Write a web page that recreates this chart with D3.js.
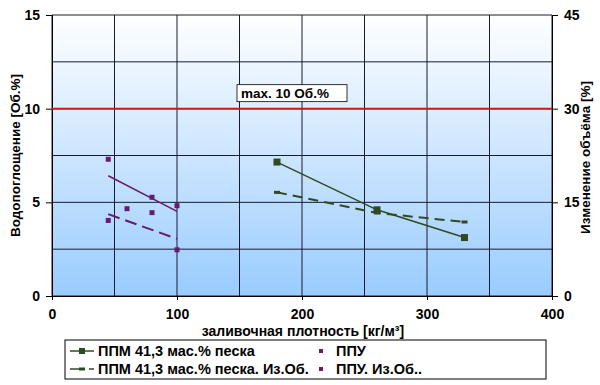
<!DOCTYPE html>
<html>
<head>
<meta charset="utf-8">
<script src="https://cdn.jsdelivr.net/npm/d3@7.8.5/dist/d3.min.js"></script>
<style>
  body { margin: 0; background: #fff; }
  svg { display: block; font-family: Arial, "Liberation Sans", sans-serif; font-weight: bold; }
</style>
</head>
<body>
<div id="chart"></div>
<script>
// density [kg/m3] and values
const ppmDensity = [180, 260, 330];
const ppmWater = [7.15, 4.6, 3.12];          // left axis, Об.%
const ppmVolume = [16.6, 13.3, 11.85];       // right axis, %

const ppuDensity = [45, 60, 80, 100];
const ppuWater = [7.3, 4.66, 5.27, 4.82];    // left axis
const ppuVolDensity = [45, 80, 100];
const ppuVolume = [12.1, 13.35, 7.4];        // right axis

const xTicks = [0, 100, 200, 300, 400];
const leftTicks = [0, 5, 10, 15];
const rightTicks = [0, 15, 30, 45];
const limitValue = 10;

const legendLabels = [
  "ППМ 41,3 мас.% песка",
  "ППМ 41,3 мас.% песка. Из.Об.",
  "ППУ",
  "ППУ. Из.Об.."
];

const width = 600, height = 385;
const margin = { top: 15, right: 48, bottom: 89, left: 52 };

const svg = d3.select("#chart").append("svg")
  .attr("width", width).attr("height", height);

const x = d3.scaleLinear().domain([0, 400]).range([margin.left, width - margin.right]);
const y = d3.scaleLinear().domain([0, 15]).range([height - margin.bottom, margin.top]);
const y2 = d3.scaleLinear().domain([0, 45]).range([height - margin.bottom, margin.top]);

const green = "#2f4a22";
const purple = "#6a1a6e";

// background gradient
const grad = svg.append("defs").append("linearGradient")
  .attr("id", "bg").attr("x1", 0).attr("y1", 0).attr("x2", 0).attr("y2", 1);
grad.append("stop").attr("offset", "0%").attr("stop-color", "#ffffff");
grad.append("stop").attr("offset", "100%").attr("stop-color", "#99ccff");

svg.append("rect")
  .attr("x", x(0)).attr("y", y(15))
  .attr("width", x(400) - x(0)).attr("height", y(0) - y(15))
  .attr("fill", "url(#bg)");

// grid
const grid = svg.append("g").attr("stroke", "#1b1b2e").attr("stroke-width", 1);
grid.selectAll(".vg").data(d3.range(0, 401, 50)).enter().append("line")
  .attr("x1", d => x(d)).attr("x2", d => x(d))
  .attr("y1", y(15)).attr("y2", y(0));
grid.selectAll(".hg").data(d3.range(0, 15.1, 2.5)).enter().append("line")
  .attr("x1", x(0)).attr("x2", x(400))
  .attr("y1", d => y(d)).attr("y2", d => y(d));

// axes
svg.append("g")
  .attr("transform", `translate(0,${y(0)})`)
  .call(d3.axisBottom(x).tickValues(xTicks).tickSize(4).tickPadding(9));
svg.append("g")
  .attr("transform", `translate(${x(0)},0)`)
  .call(d3.axisLeft(y).tickValues(leftTicks).tickSize(6).tickPadding(6));
svg.append("g")
  .attr("transform", `translate(${x(400)},0)`)
  .call(d3.axisRight(y2).tickValues(rightTicks).tickSize(6).tickPadding(6));

svg.selectAll(".domain").attr("stroke", "#000");
svg.selectAll(".tick line").attr("stroke", "#000");
svg.selectAll(".tick text")
  .style("font-size", "14px").style("font-weight", "bold")
  .style("font-family", "Arial, 'Liberation Sans', sans-serif").attr("fill", "#000");

// limit line
svg.append("line")
  .attr("x1", x(0)).attr("x2", x(400))
  .attr("y1", y(limitValue)).attr("y2", y(limitValue))
  .attr("stroke", "#d01818").attr("stroke-width", 2);

const labelG = svg.append("g").attr("transform", `translate(${x(148)},${y(limitValue) - 24})`);
labelG.append("rect").attr("width", 110).attr("height", 17)
  .attr("fill", "#fff").attr("stroke", "#000").attr("stroke-width", 0.8);
labelG.append("text").attr("x", 4).attr("y", 13)
  .style("font-size", "13.5px").text("max. 10 Об.%");

// trend line helper (least squares)
function fit(xs, ys) {
  const mx = d3.mean(xs), my = d3.mean(ys);
  const sxy = d3.sum(xs, (v, i) => (v - mx) * (ys[i] - my));
  const sxx = d3.sum(xs, v => (v - mx) * (v - mx));
  const b = sxy / sxx;
  return v => my + b * (v - mx);
}

// PPM water: solid line with squares
const ppmPts = ppmDensity.map((d, i) => [d, ppmWater[i]]);
svg.append("path").datum(ppmPts)
  .attr("fill", "none").attr("stroke", green).attr("stroke-width", 1.5)
  .attr("d", d3.line().x(d => x(d[0])).y(d => y(d[1])));
svg.selectAll(".ppm-m").data(ppmPts).enter().append("rect")
  .attr("x", d => x(d[0]) - 3.5).attr("y", d => y(d[1]) - 3.5)
  .attr("width", 7).attr("height", 7).attr("fill", green);

// PPM volume: dashed line with dash markers
const ppmVPts = ppmDensity.map((d, i) => [d, ppmVolume[i]]);
svg.append("path").datum(ppmVPts)
  .attr("fill", "none").attr("stroke", green).attr("stroke-width", 2)
  .attr("stroke-dasharray", "10,6")
  .attr("d", d3.line().x(d => x(d[0])).y(d => y2(d[1])));
svg.selectAll(".ppmv-m").data(ppmVPts).enter().append("rect")
  .attr("x", d => x(d[0]) - 3).attr("y", d => y2(d[1]) - 1.5)
  .attr("width", 6).attr("height", 3).attr("fill", green);

// PPU water: points + linear trend
const ppuFit = fit(ppuDensity, ppuWater);
const ppuExt = d3.extent(ppuDensity);
svg.append("line")
  .attr("x1", x(ppuExt[0])).attr("y1", y(ppuFit(ppuExt[0])))
  .attr("x2", x(ppuExt[1])).attr("y2", y(ppuFit(ppuExt[1])))
  .attr("stroke", purple).attr("stroke-width", 1.5);
svg.selectAll(".ppu-m").data(ppuDensity).enter().append("rect")
  .attr("x", (d) => x(d) - 2.5).attr("y", (d, i) => y(ppuWater[i]) - 2.5)
  .attr("width", 5).attr("height", 5).attr("fill", purple);

// PPU volume: points + dashed linear trend
const ppuVFit = fit(ppuVolDensity, ppuVolume);
const ppuVExt = d3.extent(ppuVolDensity);
svg.append("line")
  .attr("x1", x(ppuVExt[0])).attr("y1", y2(ppuVFit(ppuVExt[0])))
  .attr("x2", x(ppuVExt[1])).attr("y2", y2(ppuVFit(ppuVExt[1])))
  .attr("stroke", purple).attr("stroke-width", 2)
  .attr("stroke-dasharray", "12,6");
svg.selectAll(".ppuv-m").data(ppuVolDensity).enter().append("rect")
  .attr("x", (d) => x(d) - 2.5).attr("y", (d, i) => y2(ppuVolume[i]) - 2.5)
  .attr("width", 5).attr("height", 5).attr("fill", purple);

// axis titles
svg.append("text")
  .attr("transform", `translate(20,${(y(15) + y(0)) / 2}) rotate(-90)`)
  .attr("text-anchor", "middle").style("font-size", "13.5px")
  .text("Водопоглощение [Об.%]");
svg.append("text")
  .attr("transform", `translate(590,${(y(15) + y(0)) / 2 + 2}) rotate(-90)`)
  .attr("text-anchor", "middle").style("font-size", "13.5px")
  .text("Изменение объёма [%]");
svg.append("text")
  .attr("x", 303).attr("y", 336)
  .attr("text-anchor", "middle").style("font-size", "14px")
  .text("заливочная плотность [кг/м³]");

// legend
const leg = svg.append("g").attr("transform", "translate(65,340)");
leg.append("rect").attr("width", 481).attr("height", 39)
  .attr("fill", "#fff").attr("stroke", "#000").attr("stroke-width", 1);

const items = [
  { col: 0, row: 0, color: green, type: "solid" },
  { col: 0, row: 1, color: green, type: "dashed" },
  { col: 1, row: 0, color: purple, type: "point" },
  { col: 1, row: 1, color: purple, type: "point" }
];
items.forEach((it, i) => {
  const gx = it.col === 0 ? 5 : 250;
  const gy = 11 + it.row * 18;
  const g = leg.append("g").attr("transform", `translate(${gx},${gy})`);
  if (it.type === "solid") {
    g.append("line").attr("x1", 0).attr("x2", 24).attr("y1", 0).attr("y2", 0)
      .attr("stroke", it.color).attr("stroke-width", 1.5);
    g.append("rect").attr("x", 9).attr("y", -3).attr("width", 6).attr("height", 6).attr("fill", it.color);
  } else if (it.type === "dashed") {
    g.append("line").attr("x1", 0).attr("x2", 13).attr("y1", 0).attr("y2", 0)
      .attr("stroke", it.color).attr("stroke-width", 1.5);
    g.append("rect").attr("x", 9).attr("y", -1.5).attr("width", 6).attr("height", 3).attr("fill", it.color);
    g.append("line").attr("x1", 19).attr("x2", 24).attr("y1", 0).attr("y2", 0)
      .attr("stroke", it.color).attr("stroke-width", 1.5);
  } else {
    g.append("rect").attr("x", 4).attr("y", -2).attr("width", 4).attr("height", 4).attr("fill", it.color);
  }
  g.append("text")
    .attr("x", it.col === 0 ? 28 : 21).attr("y", 5)
    .style("font-size", "14.5px")
    .text(legendLabels[i]);
});
</script>
</body>
</html>
